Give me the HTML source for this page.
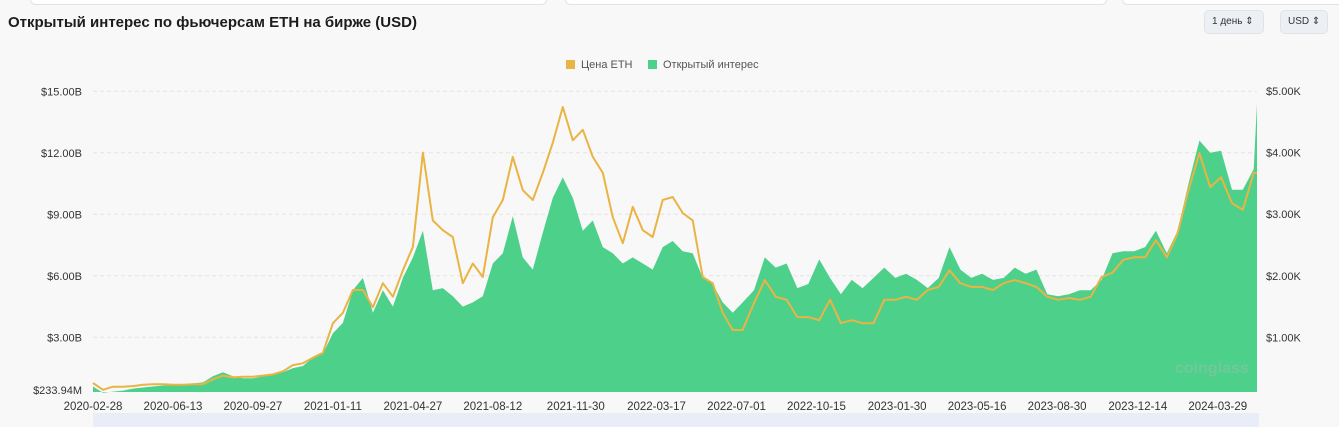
<!DOCTYPE html>
<html><head><meta charset="utf-8">
<style>
html,body{margin:0;padding:0;background:#f8f8f8;}
body{width:1339px;height:427px;overflow:hidden;position:relative;font-family:"Liberation Sans","DejaVu Sans",sans-serif;}
.title{position:absolute;left:8px;top:14px;font-size:15px;font-weight:bold;color:#1c1c1c;}
.btn{position:absolute;top:10px;height:24px;border-radius:5px;background:#eceff3;border:1px solid #dfe3e8;font-size:10px;color:#333;line-height:22px;padding:0 0 0 7px;box-sizing:border-box;white-space:nowrap;overflow:hidden;}
.topbox{position:absolute;top:-6px;height:9px;border:1px solid #e2e2e2;border-radius:6px;background:#fff;}
</style></head>
<body>
<div class="topbox" style="left:30px;width:515px;"></div>
<div class="topbox" style="left:565px;width:540px;"></div>
<div class="topbox" style="left:1122px;width:230px;"></div>
<div class="title">Открытый интерес по фьючерсам ETH на бирже (USD)</div>
<div class="btn" style="left:1204px;width:60px;">1 день ⇕</div>
<div class="btn" style="left:1280px;width:48px;">USD ⇕</div>
<svg id="chart" width="1339" height="427" style="position:absolute;left:0;top:0"></svg>
<script>
// ETH futures open interest (billions USD) and ETH price (thousands USD)
const oiSeg1 = [0.6,0.3,0.35,0.4,0.5,0.55,0.6,0.65,0.65,0.7,0.75,0.8,1.1,1.3,1.1,1.0,1.0,1.1,1.2,1.3,1.5,1.6,2.0,2.2,3.2,3.7,5.3,5.9,4.2,5.3,4.5,5.9,6.9,8.2,5.3,5.4,5.0,4.5,4.7,5.0,6.6,7.1,8.9,6.9,6.3,8.1,9.8,10.8,9.8,8.2,8.7,7.4,7.1,6.6,6.9,6.6,6.3,7.4,7.7,7.2,7.1,5.9,5.6,4.7,4.2,4.7];
const priceSeg1 = [0.26,0.15,0.2,0.2,0.21,0.23,0.24,0.24,0.23,0.23,0.24,0.24,0.32,0.38,0.35,0.36,0.36,0.38,0.4,0.45,0.55,0.58,0.67,0.75,1.23,1.4,1.77,1.77,1.49,1.88,1.66,2.09,2.47,4.0,2.9,2.74,2.63,1.88,2.2,1.98,2.95,3.23,3.93,3.39,3.23,3.67,4.16,4.74,4.2,4.37,3.93,3.67,2.95,2.53,3.12,2.74,2.63,3.23,3.28,3.02,2.9,1.98,1.88,1.4,1.12,1.12];
const oiSeg2 = [5.3,6.9,6.4,6.6,5.4,5.6,6.8,5.9,5.1,5.8,5.4,5.9,6.4,5.9,6.1,5.8,5.4,5.9,7.4,6.3,5.9,6.1,5.8,5.9,6.4,6.1,6.3,5.1,5.0,5.1,5.3,5.3,5.8,7.1,7.2,7.2,7.4,8.2,7.1,8.2,10.5,12.6,12.0,12.1,10.2,10.2,11.2,14.4];
const priceSeg2 = [1.56,1.93,1.66,1.61,1.33,1.33,1.28,1.61,1.23,1.28,1.23,1.23,1.61,1.61,1.66,1.61,1.77,1.82,2.09,1.88,1.82,1.82,1.77,1.88,1.93,1.88,1.82,1.66,1.61,1.64,1.61,1.66,1.98,2.05,2.26,2.3,2.3,2.58,2.3,2.69,3.39,3.99,3.44,3.6,3.18,3.07,3.67,3.67];
const leftTicks = [3,6,9,12,15];
const leftTickLabels = ["$3.00B","$6.00B","$9.00B","$12.00B","$15.00B"];
const rightTicks = [1,2,3,4,5];
const rightTickLabels = ["$1.00K","$2.00K","$3.00K","$4.00K","$5.00K"];
const xTickLabels = ["2020-02-28","2020-06-13","2020-09-27","2021-01-11","2021-04-27","2021-08-12","2021-11-30","2022-03-17","2022-07-01","2022-10-15","2023-01-30","2023-05-16","2023-08-30","2023-12-14","2024-03-29"];
const xTickDays = [0,106,212,318,424,530,640,747,853,959,1066,1172,1278,1385,1491];
const minLabel = "$233.94M";

// categories: day offsets since 2020-02-28
const days = [];
for (let i=0;i<oiSeg1.length;i++) days.push(i*13.25);
for (let k=0;k<oiSeg2.length-1;k++) days.push(876.2 + k*14.4);
days.push(1543);
const oi = oiSeg1.concat(oiSeg2);
const price = priceSeg1.concat(priceSeg2);

const X0=93, X1=1257, DAYMAX=1543;
const xs = d => X0 + d/DAYMAX*(X1-X0);
const yL = v => 398.8 - v*20.5;
const yR = v => 399 - v*61.6;
const svg = document.getElementById('chart');
const NS='http://www.w3.org/2000/svg';
function mk(tag, attrs){const e=document.createElementNS(NS,tag);for(const k in attrs)e.setAttribute(k,attrs[k]);svg.appendChild(e);return e;}

leftTicks.forEach((t,i)=>{
  const g=mk('line',{x1:X0,x2:X1,y1:yL(t),y2:yL(t),stroke:'#e4e4e4','stroke-dasharray':'4,3'});
  
  
  const tx=mk('text',{x:82,y:yL(t)+4,'text-anchor':'end','font-size':'11',fill:'#333'});
  tx.textContent=leftTickLabels[i];
  
  
});
const minT=mk('text',{x:82,y:394,'text-anchor':'end','font-size':'11',fill:'#333'});
minT.textContent=minLabel;


rightTicks.forEach((t,i)=>{
  const tx=mk('text',{x:1266,y:yR(t)+4,'text-anchor':'start','font-size':'11',fill:'#333'});
  tx.textContent=rightTickLabels[i];
  
  
});
xTickLabels.forEach((l,i)=>{
  const tx=mk('text',{x:xs(xTickDays[i]),y:410,'text-anchor':'middle','font-size':'11.5',fill:'#333'});
  tx.textContent=l;
  
  
});

let d='M'+xs(days[0])+','+392;
oi.forEach((v,i)=>{d+=' L'+xs(days[i]).toFixed(1)+','+yL(v).toFixed(1);});
d+=' L'+xs(days[days.length-1])+',392 Z';
const area=mk('path',{d:d,fill:'#4dd08a'});



const wm=mk('text',{x:1175,y:373,'font-size':'16','font-weight':'bold',fill:'#9fbfae','fill-opacity':'0.45'});
wm.textContent='coinglass';



let p='';
price.forEach((v,i)=>{p+=(i?' L':'M')+xs(days[i]).toFixed(1)+','+yR(v).toFixed(1);});
const line=mk('path',{d:p,fill:'none',stroke:'#e9b444','stroke-width':'2','stroke-linejoin':'round'});



const nav=mk('rect',{x:93,y:413,width:1166,height:14,fill:'#e8edf7'});



const l1=mk('rect',{x:566,y:60,width:9,height:9,fill:'#e9b444'});


const t1=mk('text',{x:581,y:68,'font-size':'11',fill:'#555'});t1.textContent='Цена ETH';


const l2=mk('rect',{x:648,y:60,width:9,height:9,fill:'#4dd08a'});


const t2=mk('text',{x:663,y:68,'font-size':'11',fill:'#555'});t2.textContent='Открытый интерес';


</script>
</body></html>
